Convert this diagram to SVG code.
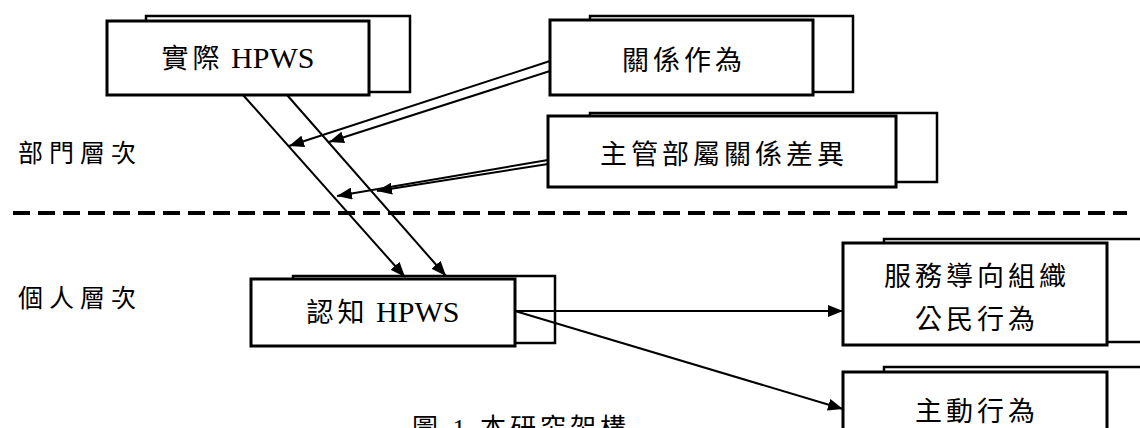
<svg xmlns="http://www.w3.org/2000/svg" width="1140" height="428" viewBox="0 0 1140 428">
  <style>
    .back { fill: #fff; stroke: #000; stroke-width: 2.5; }
    .front { fill: #fff; stroke: #000; stroke-width: 3; }
    .lbl { font-family: "Liberation Serif", "Noto Sans CJK TC", serif; fill: #000; }
    .cjk { font-family: "Noto Sans CJK TC", sans-serif; font-size: 27px; letter-spacing: 4px; }
    .latin { font-family: "Liberation Serif", serif; font-size: 30px; }
    .side { font-family: "Noto Sans CJK TC", sans-serif; font-size: 25px; letter-spacing: 6px; fill: #000; }
    .edge { fill: none; stroke: #000; stroke-width: 2; marker-end: url(#arrow); }
  </style>
  <defs>
    <marker id="arrow" markerUnits="userSpaceOnUse" viewBox="0 0 15 12" refX="15" refY="6" markerWidth="15" markerHeight="12" orient="auto">
      <path d="M0,0 L15,6 L0,12 z" fill="#000"/>
    </marker>
  </defs>

  <rect width="1140" height="428" fill="#fff"/>

  <!-- level divider -->
  <line x1="13" y1="213" x2="1127" y2="213" stroke="#000" stroke-width="4" stroke-dasharray="17 8"/>

  <!-- level labels -->
  <text class="side" x="18" y="162">部門層次</text>
  <text class="side" x="18" y="307">個人層次</text>

  <!-- nodes -->
  <g id="actual-hpws">
    <rect class="back" x="146" y="16" width="264" height="76"/>
    <rect class="front" x="107" y="21" width="262" height="74"/>
    <text class="lbl" x="238" y="68" text-anchor="middle"><tspan class="cjk" letter-spacing="5">實際</tspan><tspan class="latin"> HPWS</tspan></text>
  </g>

  <g id="relational-behavior">
    <rect class="back" x="590" y="16" width="263" height="76"/>
    <rect class="front" x="550" y="20" width="263" height="75"/>
    <text class="lbl cjk" x="684" y="70" text-anchor="middle">關係作為</text>
  </g>

  <g id="lmx-differentiation">
    <rect class="back" x="590" y="113" width="347" height="69"/>
    <rect class="front" x="548" y="116" width="348" height="71"/>
    <text class="lbl cjk" x="724" y="164" text-anchor="middle">主管部屬關係差異</text>
  </g>

  <g id="perceived-hpws">
    <rect class="back" x="293" y="276" width="262" height="67"/>
    <rect class="front" x="251" y="279" width="264" height="67"/>
    <text class="lbl" x="383" y="322" text-anchor="middle"><tspan class="cjk" letter-spacing="5">認知</tspan><tspan class="latin"> HPWS</tspan></text>
  </g>

  <g id="service-ocb">
    <rect class="back" x="884" y="239" width="270" height="103"/>
    <rect class="front" x="843" y="243" width="264" height="102"/>
    <text class="lbl cjk" x="977" y="286" text-anchor="middle">服務導向組織</text>
    <text class="lbl cjk" x="977" y="329" text-anchor="middle">公民行為</text>
  </g>

  <g id="proactive-behavior">
    <rect class="back" x="884" y="367" width="270" height="80"/>
    <rect class="front" x="843" y="372" width="264" height="80"/>
    <text class="lbl cjk" x="977" y="421" text-anchor="middle">主動行為</text>
  </g>

  <!-- connectors -->
  <g id="connectors">
    <line class="edge" x1="243" y1="95" x2="405" y2="277"/>
    <line class="edge" x1="287" y1="95" x2="446" y2="276"/>
    <line class="edge" x1="550" y1="61" x2="289" y2="146"/>
    <line class="edge" x1="550" y1="71" x2="329" y2="142"/>
    <line class="edge" x1="548" y1="160" x2="337" y2="196"/>
    <line class="edge" x1="548" y1="164" x2="377" y2="191"/>
    <line class="edge" x1="515" y1="311" x2="843" y2="311"/>
    <line class="edge" x1="515" y1="311" x2="843" y2="409"/>
  </g>

  <!-- caption -->
  <text x="412" y="437" font-family="Liberation Serif, 'Noto Sans CJK TC', serif" font-size="26" letter-spacing="4" fill="#000">圖 1 本研究架構</text>
</svg>
